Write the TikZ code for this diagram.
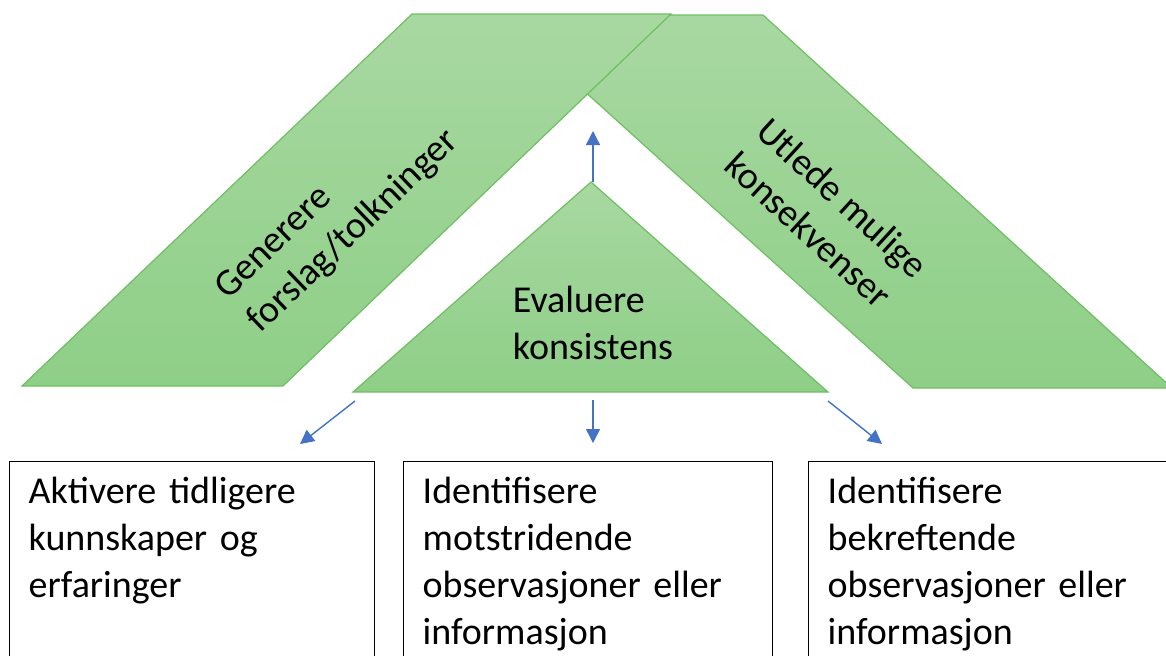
\documentclass[tikz,border=0pt]{standalone}
\usepackage{fontspec}
\setmainfont{Carlito}
\usetikzlibrary{arrows.meta}
\definecolor{gronntopp}{RGB}{168,216,161}
\definecolor{gronnbunn}{RGB}{142,207,135}
\definecolor{gronnkant}{RGB}{112,190,98}
\definecolor{pilblaa}{RGB}{68,114,196}
\begin{document}
\begin{tikzpicture}[line cap=butt,line join=miter,>={Triangle[length=7pt,width=7pt]},x=0.5pt,y=-0.5pt,font=\fontsize{19}{23.5}\selectfont]
	\tikzset{gronn/.style={draw=gronnkant,line width=0.6pt,top color=gronntopp,bottom color=gronnbunn},
		pil/.style={->,draw=pilblaa,fill=pilblaa,line width=0.7pt},
		boks/.style={draw,line width=0.7pt,anchor=north west,inner xsep=9.5pt,inner ysep=0pt,align=left,text height=21pt,text depth=120pt},
		skraa/.style={align=left,inner sep=0pt}}
	\useasboundingbox (0,0) rectangle (1166,655);
	\clip (0,0) rectangle (1166,655);
	\path[gronn] (500,15)--(763,15)--(1172,388)--(913,388)--cycle; % høyre
	\path[gronn] (412,14)--(671,14)--(283,386)--(22,386)--cycle; % venstre
	\path[gronn] (591,182)--(828,392)--(353,392)--cycle; % trekant
	\node[skraa,rotate=43.8] (gen) at (338,215) {Generere\\forslag/tolkninger};
	\node[skraa,rotate=-42.5] (utl) at (827,215) {Utlede mulige\\konsekvenser};
	\node[skraa] (eva) at (593,323) {Evaluere\\konsistens};
	\node[boks,text width=163.5pt] (akt) at (9,461) {Aktivere tidligere\\kunnskaper og\\erfaringer};
	\node[boks,text width=165.5pt] (mot) at (403,461) {Identifisere\\motstridende\\observasjoner eller\\informasjon};
	\node[boks,text width=200pt] (bek) at (808,461) {Identifisere\\bekreftende\\observasjoner eller\\informasjon};
	\coordinate (o1) at (593,182); \coordinate (o2) at (593,131);
	\coordinate (v1) at (355,401); \coordinate (v2) at (300,444);
	\coordinate (m1) at (593,400); \coordinate (m2) at (593,443);
	\coordinate (h1) at (828,401); \coordinate (h2) at (882,444);
	\foreach \s/\e in {o1/o2,v1/v2,m1/m2,h1/h2}{
		\draw[pil] (\s)--(\e);}
\end{tikzpicture}
\end{document}
